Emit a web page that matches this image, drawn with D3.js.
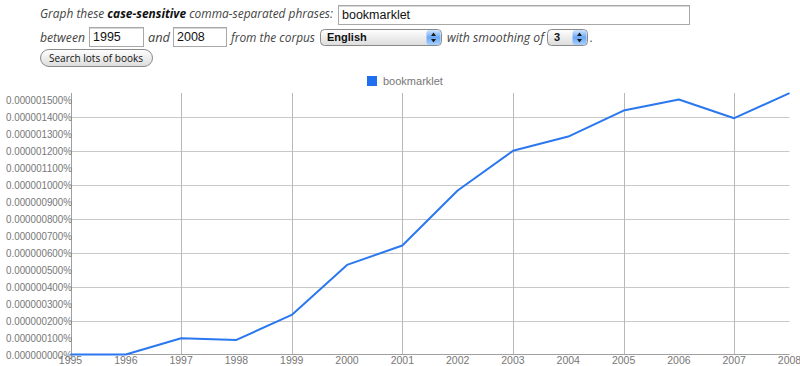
<!DOCTYPE html>
<html><head><meta charset="utf-8">
<script src="https://cdn.jsdelivr.net/npm/d3@7"></script>
<style>
html,body{margin:0;padding:0;background:#fff;}
svg{display:block;}
</style></head>
<body>
<svg id="c" width="800" height="366"></svg>
<script>
const years = [1995,1996,1997,1998,1999,2000,2001,2002,2003,2004,2005,2006,2007,2008];
// values in units of 1e-9 percent
const bookmarklet = [0,0,96,86,233,527,641,965,1198,1282,1435,1500,1390,1538];
const seriesName = "bookmarklet";
const yLabelTicks = d3.range(0,1501,100);
const yGridTicks = d3.range(0,1401,200);
const xGridYears = [1997,1999,2001,2003,2005,2007];

const svg = d3.select("#c");
const defs = svg.append("defs");
const g1 = defs.append("linearGradient").attr("id","selg").attr("x1",0).attr("y1",0).attr("x2",0).attr("y2",1);
g1.append("stop").attr("offset","0").attr("stop-color","#ffffff");
g1.append("stop").attr("offset","1").attr("stop-color","#dcdcdc");
const g2 = defs.append("linearGradient").attr("id","arrg").attr("x1",0).attr("y1",0).attr("x2",0).attr("y2",1);
g2.append("stop").attr("offset","0").attr("stop-color","#cfe4ff");
g2.append("stop").attr("offset","0.5").attr("stop-color","#6aa8f5");
g2.append("stop").attr("offset","1").attr("stop-color","#a9d0ff");

const italicFont = "'Open Sans', sans-serif";
const plainFont = "'Liberation Sans', Arial, sans-serif";

// ---- header row 1
const t1 = svg.append("text").attr("x",40).attr("y",18).attr("font-family",italicFont)
  .attr("font-size",12).attr("font-style","italic").attr("fill","#444")
  .attr("textLength",293).attr("lengthAdjust","spacingAndGlyphs");
t1.append("tspan").text("Graph these ");
t1.append("tspan").attr("font-weight","bold").attr("fill","#111").text("case-sensitive");
t1.append("tspan").text(" comma-separated phrases:");

function inputBox(x,y,w,h,txt){
  svg.append("rect").attr("x",x+0.5).attr("y",y+0.5).attr("width",w).attr("height",h)
    .attr("fill","#fff").attr("stroke","#a8a8a8");
  svg.append("line").attr("x1",x+1).attr("x2",x+w).attr("y1",y+1.5).attr("y2",y+1.5).attr("stroke","#d8d8d8");
  svg.append("text").attr("x",x+4).attr("y",y+h/2+4.5).attr("font-family",plainFont)
    .attr("font-size",12.5).attr("fill","#111").text(txt);
}
inputBox(338,5,351,19,"bookmarklet");

// ---- row 2
function itext(x,y,s,w){
  const t = svg.append("text").attr("x",x).attr("y",y).attr("font-family",italicFont)
    .attr("font-size",12).attr("font-style","italic").attr("fill","#444").text(s);
  if (w) t.attr("textLength",w).attr("lengthAdjust","spacingAndGlyphs");
}
itext(40,42,"between",45);
inputBox(89,27,54,19,"1995");
itext(148,42,"and",22);
inputBox(173,27,53,19,"2008");
itext(231,42,"from the corpus",84);

function selectBox(x,y,w,h,txt){
  svg.append("rect").attr("x",x+0.5).attr("y",y+0.5).attr("width",w).attr("height",h)
    .attr("rx",4).attr("fill","url(#selg)").attr("stroke","#8a8a8a");
  svg.append("rect").attr("x",x+w-14.5).attr("y",y+1).attr("width",14).attr("height",h-1)
    .attr("rx",3).attr("fill","url(#arrg)");
  const cx = x+w-7.5, cy = y+h/2+0.5;
  svg.append("path").attr("d",`M${cx-2.5},${cy-1.5}L${cx+2.5},${cy-1.5}L${cx},${cy-5}Z M${cx-2.5},${cy+1.5}L${cx+2.5},${cy+1.5}L${cx},${cy+5}Z`)
    .attr("fill","#1a1a1a");
  svg.append("text").attr("x",x+7).attr("y",y+h/2+4).attr("font-family",plainFont)
    .attr("font-size",11).attr("font-weight","bold").attr("fill","#111").text(txt);
}
selectBox(320,29,121,16,"English");
itext(447,42,"with smoothing of",97);
selectBox(547,29,40,16,"3");
itext(590,42,".");

// ---- button
svg.append("rect").attr("x",40.5).attr("y",49.5).attr("width",112).attr("height",17)
  .attr("rx",8.5).attr("fill","url(#selg)").attr("stroke","#8a8a8a");
svg.append("text").attr("x",49).attr("y",62).attr("font-family","'Open Sans', sans-serif")
  .attr("font-size",11).attr("fill","#111").attr("textLength",94).attr("lengthAdjust","spacingAndGlyphs")
  .text("Search lots of books");

// ---- chart
const x = d3.scaleLinear().domain([1995,2008]).range([70.5,789.5]);
const y = d3.scaleLinear().domain([0,1500]).range([354.5,99.5]);
const plotTop = 93;

// legend
svg.append("rect").attr("x",367).attr("y",76).attr("width",10).attr("height",10).attr("fill","#1f6ff0");
svg.append("text").attr("x",383).attr("y",85).attr("font-family",plainFont).attr("font-size",11)
  .attr("fill","#777").text(seriesName);

// horizontal gridlines
svg.append("g").selectAll("line").data(yGridTicks.filter(d=>d>0)).join("line")
  .attr("x1",x(1995)).attr("x2",x(2008)).attr("y1",d=>Math.round(y(d))+0.5).attr("y2",d=>Math.round(y(d))+0.5)
  .attr("stroke","#c8c8c8").attr("stroke-width",1);
// vertical gridlines
svg.append("g").selectAll("line").data(xGridYears).join("line")
  .attr("x1",d=>Math.round(x(d))+0.5).attr("x2",d=>Math.round(x(d))+0.5).attr("y1",plotTop).attr("y2",y(0))
  .attr("stroke","#b8b8b8").attr("stroke-width",1);

// axes lines
svg.append("line").attr("x1",71.5).attr("x2",71.5).attr("y1",plotTop).attr("y2",355).attr("stroke","#a0a0a0");
svg.append("line").attr("x1",70).attr("x2",x(2008)).attr("y1",354.5).attr("y2",354.5).attr("stroke","#a0a0a0");

// y labels
svg.append("g").selectAll("text").data(yLabelTicks).join("text")
  .attr("x",72).attr("y",d=>y(d)+4).attr("text-anchor","end")
  .attr("font-family",plainFont).attr("font-size",10.5).attr("fill","#777")
  .attr("textLength",66).attr("lengthAdjust","spacingAndGlyphs")
  .text(d=>(d/1e9).toFixed(9)+"%");

// x labels
svg.append("g").selectAll("text").data(years).join("text")
  .attr("x",d=>x(d)).attr("y",364).attr("text-anchor","middle")
  .attr("font-family",plainFont).attr("font-size",10.5).attr("fill","#777")
  .text(d=>d);

// line
const line = d3.line().x((d,i)=>x(years[i])).y(d=>y(d));
svg.append("path").datum(bookmarklet).attr("d",line).attr("fill","none")
  .attr("stroke","#2a78f0").attr("stroke-width",2).attr("stroke-linejoin","round");
</script>
</body></html>
